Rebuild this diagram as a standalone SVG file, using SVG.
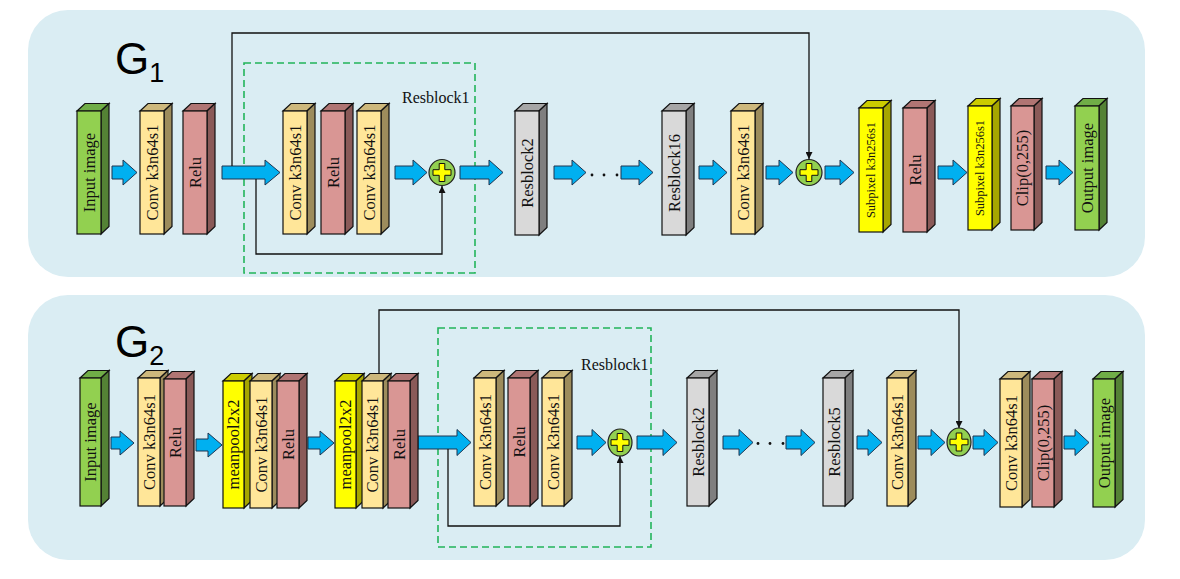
<svg xmlns="http://www.w3.org/2000/svg" width="1180" height="579" viewBox="0 0 1180 579">
<defs>
<style>
.panel{fill:#daedf3}
.blk{stroke:#111;stroke-width:1.2;stroke-linejoin:miter}
.gF{fill:#92d050}.gT{fill:#70ad47}.gS{fill:#548235}
.cF{fill:#ffe699}.cT{fill:#cdb87c}.cS{fill:#9d8c5c}
.rF{fill:#d99694}.rT{fill:#b07573}.rS{fill:#8a5a58}
.kF{fill:#d9d9d9}.kT{fill:#a6a6a6}.kS{fill:#7f7f7f}
.yF{fill:#ffff00}.yT{fill:#cccc00}.yS{fill:#a6a600}
.arr{fill:#00b0f0;stroke:#1f3550;stroke-width:1}
.lbl{font-family:"Liberation Serif","Times New Roman",serif;font-size:16.5px;fill:#111;text-anchor:middle}
.sm{font-size:12.5px}
.res{font-family:"Liberation Serif","Times New Roman",serif;font-size:16px;fill:#111}
.dash{fill:none;stroke:#22b45a;stroke-width:1.6;stroke-dasharray:7,4}
.skip{fill:none;stroke:#111;stroke-width:1.3}
.add{fill:#92d050;stroke:#222;stroke-width:1.2}
.cross{fill:#ffff00;stroke:#111;stroke-width:1}
.dot{fill:#111}
.glbl{font-family:"Liberation Sans",Arial,sans-serif;fill:#000}
</style>
<marker id="ah" viewBox="0 0 10 10" refX="10" refY="5" markerWidth="7" markerHeight="7" markerUnits="userSpaceOnUse" orient="auto">
<path d="M0,0 L10,5 L0,10 z" fill="#111"/>
</marker>
<path id="crossShape" d="M-2.8,-9 H2.8 V-2.8 H9 V2.8 H2.8 V9 H-2.8 V2.8 H-9 V-2.8 H-2.8 Z"/>
</defs>

<rect class="panel" x="28" y="10" width="1117" height="267" rx="40"/>
<rect class="panel" x="28" y="295" width="1117" height="265" rx="40"/>

<text class="glbl" x="115" y="74" font-size="44">G<tspan font-size="27" dy="8">1</tspan></text>
<text class="glbl" x="115" y="357" font-size="44">G<tspan font-size="27" dy="8">2</tspan></text>

<rect class="dash" x="244" y="63" width="231" height="210"/>
<text class="res" x="402" y="103">Resblock1</text>
<rect class="dash" x="438" y="328" width="213" height="219"/>
<text class="res" x="581" y="370">Resblock1</text>

<!-- connectors -->
<g id="connectors">
<path class="arr" d="M112,166 H123 V160 L137,172.5 L123,185 V179 H112 Z"/>
<path class="arr" d="M222,166 H265 V160 L280,172.5 L265,185 V179 H222 Z"/>
<path class="arr" d="M395,166 H413 V160 L427,172.5 L413,185 V179 H395 Z"/>
<path class="arr" d="M460,166 H489 V160 L503,172.5 L489,185 V179 H460 Z"/>
<path class="arr" d="M554,166 H572 V160 L586,172.5 L572,185 V179 H554 Z"/>
<path class="arr" d="M621,166 H639 V160 L653,172.5 L639,185 V179 H621 Z"/>
<path class="arr" d="M699,166 H713 V160 L727,172.5 L713,185 V179 H699 Z"/>
<path class="arr" d="M766,166 H779 V160 L793,172.5 L779,185 V179 H766 Z"/>
<path class="arr" d="M825,166 H840 V160 L854,172.5 L840,185 V179 H825 Z"/>
<path class="arr" d="M938,166 H953 V160 L967,172.5 L953,185 V179 H938 Z"/>
<path class="arr" d="M1046,166 H1059 V160 L1073,172.5 L1059,185 V179 H1046 Z"/>

<circle class="dot" cx="592" cy="175" r="1.4"/>
<circle class="dot" cx="604" cy="175" r="1.4"/>
<circle class="dot" cx="617" cy="175" r="1.4"/>

<path class="skip" d="M256,179 V254 H442 V186" marker-end="url(#ah)"/>
<path class="skip" d="M232,166 V33 H809 V159" marker-end="url(#ah)"/>

<path class="arr" d="M111,437 H120 V431 L134,443 L120,455 V449 H111 Z"/>
<path class="arr" d="M196,439 H208 V433 L222,445 L208,457 V451 H196 Z"/>
<path class="arr" d="M308,437 H320 V431 L334,443 L320,455 V449 H308 Z"/>
<path class="arr" d="M418,436 H457 V429.5 L471,442.5 L457,455.5 V449 H418 Z"/>
<path class="arr" d="M577,436 H592 V429.5 L606,442.5 L592,455.5 V449 H577 Z"/>
<path class="arr" d="M637,436 H663 V429.5 L677,442.5 L663,455.5 V449 H637 Z"/>
<path class="arr" d="M723,436 H739 V429.5 L753,442.5 L739,455.5 V449 H723 Z"/>
<path class="arr" d="M786,436 H801 V429.5 L815,442.5 L801,455.5 V449 H786 Z"/>
<path class="arr" d="M857,436 H868 V429.5 L882,442.5 L868,455.5 V449 H857 Z"/>
<path class="arr" d="M918,436 H931 V429.5 L945,442.5 L931,455.5 V449 H918 Z"/>
<path class="arr" d="M973,436 H984 V429.5 L998,442.5 L984,455.5 V449 H973 Z"/>
<path class="arr" d="M1064,436 H1075 V429.5 L1089,442.5 L1075,455.5 V449 H1064 Z"/>

<circle class="dot" cx="758" cy="443.5" r="1.4"/>
<circle class="dot" cx="770" cy="443.5" r="1.4"/>
<circle class="dot" cx="783" cy="443.5" r="1.4"/>

<path class="skip" d="M448,449 V526 H620 V456" marker-end="url(#ah)"/>
<path class="skip" d="M379,373 V310 H959 V428" marker-end="url(#ah)"/>
</g>

<!-- top row nodes -->
<g id="g1-input">
<polygon class="blk gT" points="77,111 85,103.5 109,103.5 101,111"/>
<polygon class="blk gS" points="101,111 109,103.5 109,226.5 101,234"/>
<rect class="blk gF" x="77" y="111" width="24" height="123"/>
<text class="lbl" transform="translate(94.5,172.5) rotate(-90)">Input image</text>
</g>
<g id="g1-conv1">
<polygon class="blk cT" points="140,111 148,103.5 172,103.5 164,111"/>
<polygon class="blk cS" points="164,111 172,103.5 172,226.5 164,234"/>
<rect class="blk cF" x="140" y="111" width="24" height="123"/>
<text class="lbl" transform="translate(157.5,172.5) rotate(-90)">Conv k3n64s1</text>
</g>
<g id="g1-relu1">
<polygon class="blk rT" points="183,111 191,103.5 215,103.5 207,111"/>
<polygon class="blk rS" points="207,111 215,103.5 215,226.5 207,234"/>
<rect class="blk rF" x="183" y="111" width="24" height="123"/>
<text class="lbl" transform="translate(200.5,172.5) rotate(-90)">Relu</text>
</g>
<g id="g1-rb-conv1">
<polygon class="blk cT" points="283,111 291,103.5 315,103.5 307,111"/>
<polygon class="blk cS" points="307,111 315,103.5 315,226.5 307,234"/>
<rect class="blk cF" x="283" y="111" width="24" height="123"/>
<text class="lbl" transform="translate(300.5,172.5) rotate(-90)">Conv k3n64s1</text>
</g>
<g id="g1-rb-relu">
<polygon class="blk rT" points="321,111 329,103.5 353,103.5 345,111"/>
<polygon class="blk rS" points="345,111 353,103.5 353,226.5 345,234"/>
<rect class="blk rF" x="321" y="111" width="24" height="123"/>
<text class="lbl" transform="translate(338.5,172.5) rotate(-90)">Relu</text>
</g>
<g id="g1-rb-conv2">
<polygon class="blk cT" points="357,111 365,103.5 389,103.5 381,111"/>
<polygon class="blk cS" points="381,111 389,103.5 389,226.5 381,234"/>
<rect class="blk cF" x="357" y="111" width="24" height="123"/>
<text class="lbl" transform="translate(374.5,172.5) rotate(-90)">Conv k3n64s1</text>
</g>
<g id="g1-add1">
<circle class="add" cx="442" cy="172.5" r="13"/>
<use href="#crossShape" class="cross" transform="translate(442,172.5)"/>
</g>
<g id="g1-resblock2">
<polygon class="blk kT" points="515,111 523,103.5 547,103.5 539,111"/>
<polygon class="blk kS" points="539,111 547,103.5 547,227.5 539,235"/>
<rect class="blk kF" x="515" y="111" width="24" height="124"/>
<text class="lbl" transform="translate(532.5,173) rotate(-90)">Resblock2</text>
</g>
<g id="g1-resblock16">
<polygon class="blk kT" points="662,111 670,103.5 694,103.5 686,111"/>
<polygon class="blk kS" points="686,111 694,103.5 694,227.5 686,235"/>
<rect class="blk kF" x="662" y="111" width="24" height="124"/>
<text class="lbl" transform="translate(679.5,173) rotate(-90)">Resblock16</text>
</g>
<g id="g1-conv2">
<polygon class="blk cT" points="731,111 739,103.5 763,103.5 755,111"/>
<polygon class="blk cS" points="755,111 763,103.5 763,226.5 755,234"/>
<rect class="blk cF" x="731" y="111" width="24" height="123"/>
<text class="lbl" transform="translate(748.5,172.5) rotate(-90)">Conv k3n64s1</text>
</g>
<g id="g1-add2">
<circle class="add" cx="809" cy="172.5" r="13"/>
<use href="#crossShape" class="cross" transform="translate(809,172.5)"/>
</g>
<g id="g1-subpixel1">
<polygon class="blk yT" points="859,108 867,100.5 891,100.5 883,108"/>
<polygon class="blk yS" points="883,108 891,100.5 891,224.5 883,232"/>
<rect class="blk yF" x="859" y="108" width="24" height="124"/>
<text class="lbl sm" transform="translate(875,170) rotate(-90)">Subpixel k3n256s1</text>
</g>
<g id="g1-relu2">
<polygon class="blk rT" points="903,108 911,100.5 935,100.5 927,108"/>
<polygon class="blk rS" points="927,108 935,100.5 935,224.5 927,232"/>
<rect class="blk rF" x="903" y="108" width="24" height="124"/>
<text class="lbl" transform="translate(920.5,170) rotate(-90)">Relu</text>
</g>
<g id="g1-subpixel2">
<polygon class="blk yT" points="968,106 976,98.5 1000,98.5 992,106"/>
<polygon class="blk yS" points="992,106 1000,98.5 1000,222.5 992,230"/>
<rect class="blk yF" x="968" y="106" width="24" height="124"/>
<text class="lbl sm" transform="translate(984,168) rotate(-90)">Subpixel k3n256s1</text>
</g>
<g id="g1-clip">
<polygon class="blk rT" points="1011,106 1019,98.5 1042,98.5 1034,106"/>
<polygon class="blk rS" points="1034,106 1042,98.5 1042,222.5 1034,230"/>
<rect class="blk rF" x="1011" y="106" width="23" height="124"/>
<text class="lbl" transform="translate(1028,168) rotate(-90)">Clip(0,255)</text>
</g>
<g id="g1-output">
<polygon class="blk gT" points="1075,106 1083,98.5 1107,98.5 1099,106"/>
<polygon class="blk gS" points="1099,106 1107,98.5 1107,222.5 1099,230"/>
<rect class="blk gF" x="1075" y="106" width="24" height="124"/>
<text class="lbl" transform="translate(1092.5,168) rotate(-90)">Output image</text>
</g>

<!-- bottom row nodes -->
<g id="g2-input">
<polygon class="blk gT" points="80,378 88,370.5 109,370.5 101,378"/>
<polygon class="blk gS" points="101,378 109,370.5 109,498.5 101,506"/>
<rect class="blk gF" x="80" y="378" width="21" height="128"/>
<text class="lbl" transform="translate(96,442) rotate(-90)">Input image</text>
</g>
<g id="g2-conv1">
<polygon class="blk cT" points="138,378 146,370.5 168,370.5 160,378"/>
<polygon class="blk cS" points="160,378 168,370.5 168,498.5 160,506"/>
<rect class="blk cF" x="138" y="378" width="22" height="128"/>
<text class="lbl" transform="translate(154.5,442) rotate(-90)">Conv k3n64s1</text>
</g>
<g id="g2-relu1">
<polygon class="blk rT" points="164,379 172,371.5 194,371.5 186,379"/>
<polygon class="blk rS" points="186,379 194,371.5 194,498.5 186,506"/>
<rect class="blk rF" x="164" y="379" width="22" height="127"/>
<text class="lbl" transform="translate(180.5,442.5) rotate(-90)">Relu</text>
</g>
<g id="g2-meanpool1">
<polygon class="blk yT" points="223,381 231,373.5 252,373.5 244,381"/>
<polygon class="blk yS" points="244,381 252,373.5 252,500.5 244,508"/>
<rect class="blk yF" x="223" y="381" width="21" height="127"/>
<text class="lbl" transform="translate(239,444.5) rotate(-90)">meanpool2x2</text>
</g>
<g id="g2-conv2">
<polygon class="blk cT" points="250,381 258,373.5 280,373.5 272,381"/>
<polygon class="blk cS" points="272,381 280,373.5 280,500.5 272,508"/>
<rect class="blk cF" x="250" y="381" width="22" height="127"/>
<text class="lbl" transform="translate(266.5,444.5) rotate(-90)">Conv k3n64s1</text>
</g>
<g id="g2-relu2">
<polygon class="blk rT" points="277,381 285,373.5 307,373.5 299,381"/>
<polygon class="blk rS" points="299,381 307,373.5 307,500.5 299,508"/>
<rect class="blk rF" x="277" y="381" width="22" height="127"/>
<text class="lbl" transform="translate(293.5,444.5) rotate(-90)">Relu</text>
</g>
<g id="g2-meanpool2">
<polygon class="blk yT" points="335,381 343,373.5 364,373.5 356,381"/>
<polygon class="blk yS" points="356,381 364,373.5 364,500.5 356,508"/>
<rect class="blk yF" x="335" y="381" width="21" height="127"/>
<text class="lbl" transform="translate(351,444.5) rotate(-90)">meanpool2x2</text>
</g>
<g id="g2-conv3">
<polygon class="blk cT" points="362,381 370,373.5 391,373.5 383,381"/>
<polygon class="blk cS" points="383,381 391,373.5 391,500.5 383,508"/>
<rect class="blk cF" x="362" y="381" width="21" height="127"/>
<text class="lbl" transform="translate(378,444.5) rotate(-90)">Conv k3n64s1</text>
</g>
<g id="g2-relu3">
<polygon class="blk rT" points="388,381 396,373.5 418,373.5 410,381"/>
<polygon class="blk rS" points="410,381 418,373.5 418,500.5 410,508"/>
<rect class="blk rF" x="388" y="381" width="22" height="127"/>
<text class="lbl" transform="translate(404.5,444.5) rotate(-90)">Relu</text>
</g>
<g id="g2-rb-conv1">
<polygon class="blk cT" points="474,378 482,370.5 504,370.5 496,378"/>
<polygon class="blk cS" points="496,378 504,370.5 504,498.5 496,506"/>
<rect class="blk cF" x="474" y="378" width="22" height="128"/>
<text class="lbl" transform="translate(490.5,442) rotate(-90)">Conv k3n64s1</text>
</g>
<g id="g2-rb-relu">
<polygon class="blk rT" points="508,378 516,370.5 538,370.5 530,378"/>
<polygon class="blk rS" points="530,378 538,370.5 538,498.5 530,506"/>
<rect class="blk rF" x="508" y="378" width="22" height="128"/>
<text class="lbl" transform="translate(524.5,442) rotate(-90)">Relu</text>
</g>
<g id="g2-rb-conv2">
<polygon class="blk cT" points="542,378 550,370.5 572,370.5 564,378"/>
<polygon class="blk cS" points="564,378 572,370.5 572,498.5 564,506"/>
<rect class="blk cF" x="542" y="378" width="22" height="128"/>
<text class="lbl" transform="translate(558.5,442) rotate(-90)">Conv k3n64s1</text>
</g>
<g id="g2-add1">
<ellipse class="add" cx="620" cy="442.5" rx="12" ry="13.5"/>
<use href="#crossShape" class="cross" transform="translate(620,442.5)"/>
</g>
<g id="g2-resblock2">
<polygon class="blk kT" points="687,378 695,370.5 717,370.5 709,378"/>
<polygon class="blk kS" points="709,378 717,370.5 717,498.5 709,506"/>
<rect class="blk kF" x="687" y="378" width="22" height="128"/>
<text class="lbl" transform="translate(703.5,442) rotate(-90)">Resblock2</text>
</g>
<g id="g2-resblock5">
<polygon class="blk kT" points="823,378 831,370.5 853,370.5 845,378"/>
<polygon class="blk kS" points="845,378 853,370.5 853,498.5 845,506"/>
<rect class="blk kF" x="823" y="378" width="22" height="128"/>
<text class="lbl" transform="translate(839.5,442) rotate(-90)">Resblock5</text>
</g>
<g id="g2-conv4">
<polygon class="blk cT" points="887,378 895,370.5 916,370.5 908,378"/>
<polygon class="blk cS" points="908,378 916,370.5 916,498.5 908,506"/>
<rect class="blk cF" x="887" y="378" width="21" height="128"/>
<text class="lbl" transform="translate(903,442) rotate(-90)">Conv k3n64s1</text>
</g>
<g id="g2-add2">
<ellipse class="add" cx="959" cy="442" rx="12" ry="14"/>
<use href="#crossShape" class="cross" transform="translate(959,442)"/>
</g>
<g id="g2-conv5">
<polygon class="blk cT" points="1000,379 1008,371.5 1030,371.5 1022,379"/>
<polygon class="blk cS" points="1022,379 1030,371.5 1030,499.5 1022,507"/>
<rect class="blk cF" x="1000" y="379" width="22" height="128"/>
<text class="lbl" transform="translate(1016.5,443) rotate(-90)">Conv k3n64s1</text>
</g>
<g id="g2-clip">
<polygon class="blk rT" points="1032,379 1040,371.5 1062,371.5 1054,379"/>
<polygon class="blk rS" points="1054,379 1062,371.5 1062,499.5 1054,507"/>
<rect class="blk rF" x="1032" y="379" width="22" height="128"/>
<text class="lbl" transform="translate(1048.5,443) rotate(-90)">Clip(0,255)</text>
</g>
<g id="g2-output">
<polygon class="blk gT" points="1093,379 1101,371.5 1123,371.5 1115,379"/>
<polygon class="blk gS" points="1115,379 1123,371.5 1123,499.5 1115,507"/>
<rect class="blk gF" x="1093" y="379" width="22" height="128"/>
<text class="lbl" transform="translate(1109.5,443) rotate(-90)">Output image</text>
</g>
</svg>
